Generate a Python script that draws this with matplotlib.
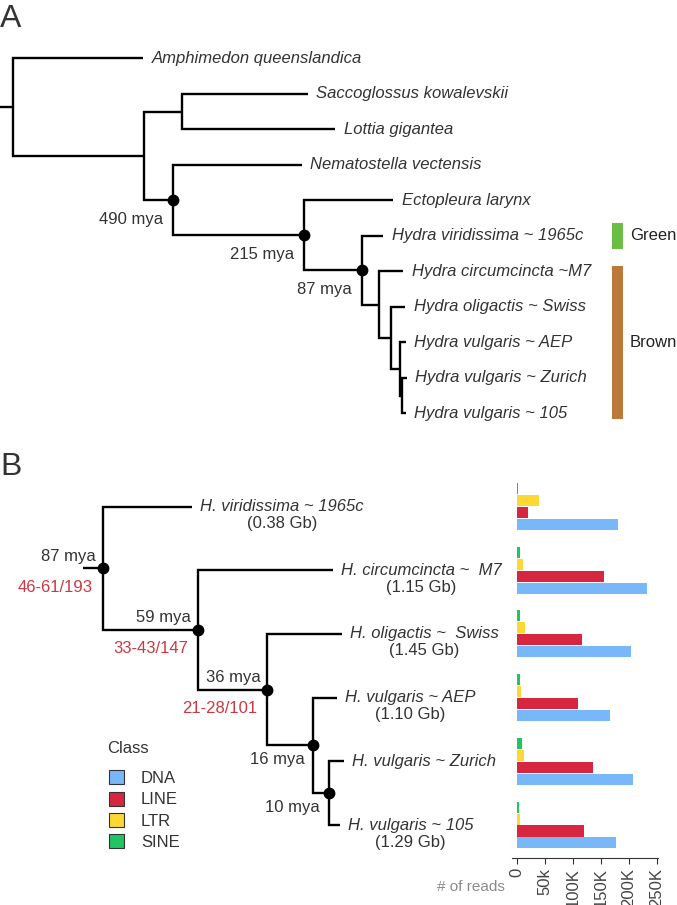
import matplotlib.pyplot as plt
from matplotlib.patches import Patch, Rectangle

plt.rcParams['font.family'] = ['Liberation Sans', 'DejaVu Sans']

# ---- panel A: species tree (parent index + node depth) ----
a_names = ["", "Amphimedon queenslandica", "", "", "Saccoglossus kowalevskii",
           "Lottia gigantea", "", "Nematostella vectensis", "", "Ectopleura larynx",
           "", "Hydra viridissima ~ 1965c", "", "Hydra circumcincta ~M7", "",
           "Hydra oligactis ~ Swiss", "", "Hydra vulgaris ~ AEP", "",
           "Hydra vulgaris ~ Zurich", "Hydra vulgaris ~ 105"]
a_parent = [-1, 0, 0, 2, 3, 3, 2, 6, 6, 8, 8, 10, 10, 12, 12, 14, 14, 16, 16, 18, 18]
a_depth = [13.3, 143, 143.7, 182, 308, 335, 172.7, 302, 304.3, 393, 362,
           383.3, 379, 403.3, 391, 405, 400, 406, 402, 406.7, 406]
a_ages = {6: "490 mya", 8: "215 mya", 10: "87 mya"}
a_groups = ["Green", "Brown"]
a_group_first = [11, 13]
a_group_last = [11, 20]
a_group_colors = ["#6cbd45", "#bb7a3c"]

# ---- panel B: Hydra tree ----
b_names = ["", "H. viridissima ~ 1965c", "", "H. circumcincta ~  M7", "",
           "H. oligactis ~  Swiss", "", "H. vulgaris ~ AEP", "",
           "H. vulgaris ~ Zurich", "H. vulgaris ~ 105"]
b_parent = [-1, 0, 0, 2, 2, 4, 4, 6, 6, 8, 8]
b_depth = [103, 192, 197.7, 333, 267.3, 341.7, 313.3, 337.3, 329, 344, 340]
b_sizes = {1: "(0.38 Gb)", 3: "(1.15 Gb)", 5: "(1.45 Gb)", 7: "(1.10 Gb)", 10: "(1.29 Gb)"}
b_ages = {0: "87 mya", 2: "59 mya", 4: "36 mya", 6: "16 mya", 8: "10 mya"}
b_counts = {0: "46-61/193", 2: "33-43/147", 4: "21-28/101"}

# ---- panel B: repeat reads per class ----
classes = ["DNA", "LINE", "LTR", "SINE"]
class_colors = ["#78b7f8", "#d62640", "#fdd835", "#20c465"]
dna = [181000, 233000, 204000, 167000, 207000, 177000]
line = [20000, 155000, 116000, 109000, 136000, 120000]
ltr = [39000, 11000, 14000, 7000, 12000, 6000]
sine = [1500, 6000, 5000, 6000, 9000, 4000]
read_ticks = [0, 50000, 100000, 150000, 200000, 250000]
read_ticklabels = ["0", "50k", "100K", "150K", "200K", "250K"]

TXT = "#333333"
W, H = 677, 905


def layout(parent):
    kids = [[] for _ in parent]
    for i, p in enumerate(parent):
        if p >= 0:
            kids[p].append(i)
    y = [0.0] * len(parent)
    count = [0]

    def visit(i):
        if not kids[i]:
            y[i] = count[0]
            count[0] += 1
        else:
            for k in kids[i]:
                visit(k)
            y[i] = (y[kids[i][0]] + y[kids[i][-1]]) / 2
    visit(0)
    return kids, y


def draw_tree(ax, parent, depth, stub, lw=1.7):
    kids, y = layout(parent)
    ax.plot([stub, depth[0]], [y[0], y[0]], color='k', lw=lw, solid_capstyle='butt')
    for i, p in enumerate(parent):
        if p >= 0:
            ax.plot([depth[p], depth[p], depth[i]], [y[p], y[i], y[i]], color='k',
                    lw=lw, solid_joinstyle='miter', solid_capstyle='butt')
    return kids, y


fig = plt.figure(figsize=(W / 100, H / 100), dpi=100)

# ---------------- A ----------------
axA = fig.add_axes([0, 1 - 440 / H, 1, 440 / H])
axA.set_xlim(0, W)
axA.set_ylim(10.75, -1.648)
axA.axis('off')
kids, y = draw_tree(axA, a_parent, a_depth, 0)
for i, name in enumerate(a_names):
    if not kids[i] and name:
        axA.annotate(name, (a_depth[i], y[i]), xytext=(8.5, 0), textcoords='offset pixels',
                     va='center', ha='left', style='italic', fontsize=12, color=TXT)
for i, age in a_ages.items():
    axA.plot(a_depth[i], y[i], 'o', color='k', ms=7.5)
    axA.annotate(age, (a_depth[i], y[i]), xytext=(-10, -19), textcoords='offset pixels',
                 va='center', ha='right', fontsize=12, color=TXT)
for g, f, l, c in zip(a_groups, a_group_first, a_group_last, a_group_colors):
    if l == f:
        y0, y1 = y[f] - 0.36, y[l] + 0.36
    else:
        y0, y1 = y[f] - 0.15, y[l] + 0.15
    axA.add_patch(Rectangle((612.3, y0), 11, y1 - y0, color=c, lw=0))
    axA.text(630, (y0 + y1) / 2, g, va='center', ha='left', fontsize=12, color="#222222")

fig.text(0.0, 1 - 4 / H, "A", fontsize=23, va='top', ha='left', color=TXT)
fig.text(0.0, 1 - 452 / H, "B", fontsize=23, va='top', ha='left', color=TXT)

# ---------------- B ----------------
bot = (H - 858) / H
hgt = (858 - 470) / H
ylim = (5.518, -0.573)

axT = fig.add_axes([0, bot, 511.7 / W, hgt])
axT.set_xlim(0, 511.7)
axT.set_ylim(*ylim)
axT.axis('off')
kids, y = draw_tree(axT, b_parent, b_depth, 83)
for i, name in enumerate(b_names):
    if not kids[i]:
        t = axT.annotate(name, (b_depth[i], y[i]), xytext=(8, 0), textcoords='offset pixels',
                         va='center', ha='left', style='italic', fontsize=12, color=TXT)
        if i in b_sizes:
            axT.annotate(b_sizes[i], xy=(0.5, 0), xycoords=t, xytext=(0, -2),
                         textcoords='offset pixels', ha='center', va='top',
                         fontsize=12, color=TXT)
for i, age in b_ages.items():
    axT.plot(b_depth[i], y[i], 'o', color='k', ms=7.5)
    if i in b_counts:
        axT.annotate(age, (b_depth[i], y[i]), xytext=(-7, 12), textcoords='offset pixels',
                     va='center', ha='right', fontsize=12, color=TXT)
        axT.annotate(b_counts[i], (b_depth[i], y[i]), xytext=(-10, -19),
                     textcoords='offset pixels', va='center', ha='right',
                     fontsize=12, color="#cc3842")
    else:
        axT.annotate(age, (b_depth[i], y[i]), xytext=(-9, -14), textcoords='offset pixels',
                     va='center', ha='right', fontsize=12, color=TXT)

handles = [Patch(facecolor=c, edgecolor='#333333', lw=0.8) for c in class_colors]
axT.legend(handles, classes, loc='upper left',
           bbox_to_anchor=(109.3 / 511.7, (858 - 770.5) / 388), frameon=False,
           fontsize=12, handlelength=0.9, handleheight=0.9,
           handletextpad=1.0, labelspacing=0.33,
           borderpad=0, borderaxespad=0, labelcolor=TXT)
fig.text(107.3 / W, 1 - 748.3 / H, "Class", va='center', ha='left', fontsize=12, color=TXT)

axB = fig.add_axes([511.7 / W, bot, (658 - 511.7) / W, hgt])
pos = list(range(len(dna)))
step = 0.188
for j, (vals, col) in enumerate(zip([dna, line, ltr, sine], class_colors)):
    axB.barh([p + (1.5 - j) * step for p in pos], vals, height=0.173, color=col, lw=0)
axB.set_ylim(*ylim)
axB.set_xlim(-9500, 252000)
axB.set_yticks([])
for s in ['top', 'right', 'left']:
    axB.spines[s].set_visible(False)
axB.spines['bottom'].set_color('#333333')
axB.set_xticks(read_ticks)
axB.set_xticklabels(read_ticklabels, rotation=90, fontsize=12, color='#444444')
axB.tick_params(axis='x', length=4, color='#333333', pad=3)
fig.text(471 / W, 1 - 887 / H, "# of reads", ha='center', va='center',
         fontsize=11, color='#8a8a8a')

fig.savefig("out.png", dpi=100)
